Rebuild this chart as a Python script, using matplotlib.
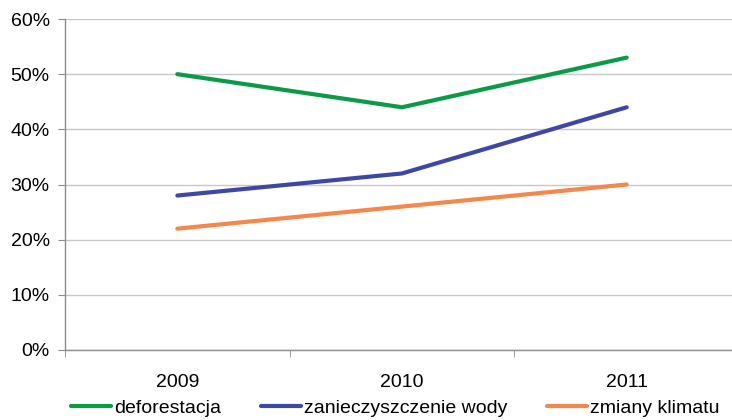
import matplotlib.pyplot as plt
from matplotlib.ticker import FuncFormatter

plt.rcParams['font.family'] = ['Liberation Sans', 'DejaVu Sans']

# Data
years = ['2009', '2010', '2011']
deforestacja = [50, 44, 53]
zanieczyszczenie = [28, 32, 44]
zmiany_klimatu = [22, 26, 30]

fig = plt.figure(figsize=(7.32, 4.2), dpi=100)
ax = fig.add_axes([65/732, 1 - 350/420, (739 - 65)/732, (350 - 19)/420])

x = range(len(years))
ax.plot(x, deforestacja, color='#0b9a48', lw=3, solid_capstyle='round', label='deforestacja')
ax.plot(x, zanieczyszczenie, color='#3e47a3', lw=3, solid_capstyle='round', label='zanieczyszczenie wody')
ax.plot(x, zmiany_klimatu, color='#f4874b', lw=3, solid_capstyle='round', label='zmiany klimatu')

ax.set_xlim(-0.5, 2.5)
ax.set_ylim(0, 60)
ax.set_yticks(range(0, 61, 10))
ax.yaxis.set_major_formatter(FuncFormatter(lambda v, p: f'{v:.0f}%'))
ax.set_xticks(list(x))
ax.set_xticklabels(years)
ax.set_xticks([-0.5, 0.5, 1.5, 2.5], minor=True)
ax.tick_params(axis='x', which='major', length=0, pad=17, labelsize=14)
ax.tick_params(axis='x', which='minor', length=5, color='#8c8c8c', direction='out')
ax.tick_params(axis='y', length=5, color='#8c8c8c', pad=6, labelsize=14)

ax.grid(axis='y', color='#c8c8c8', lw=1)
ax.set_axisbelow(True)
for s in ['top', 'right']:
    ax.spines[s].set_visible(False)
for s in ['left', 'bottom']:
    ax.spines[s].set_color('#8c8c8c')
    ax.spines[s].set_linewidth(1)

fig.legend(loc='center', bbox_to_anchor=(0.540, 0.028), ncol=3, frameon=False,
           fontsize=14, handlelength=2.05, handletextpad=0.15, columnspacing=2.05,
           borderpad=0, borderaxespad=0)

fig.savefig('out.png')
